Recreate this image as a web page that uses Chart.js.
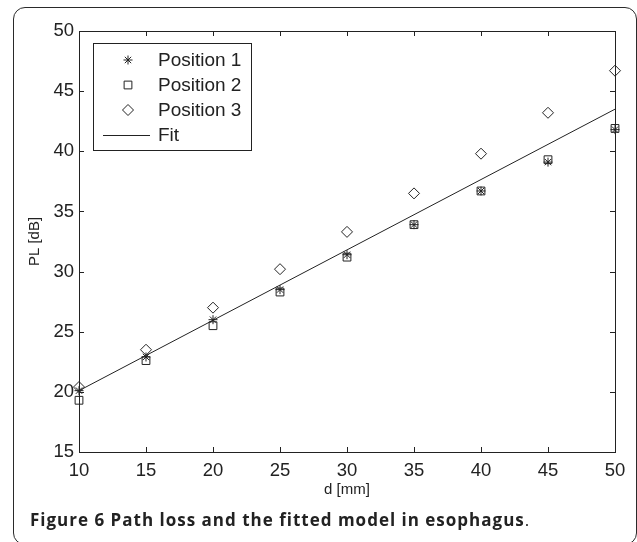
<!DOCTYPE html>
<html>
<head>
<meta charset="utf-8">
<script src="https://cdn.jsdelivr.net/npm/chart.js@4"></script>
<style>
  html, body { margin: 0; padding: 0; background: #fff; }
  #wrap { position: relative; width: 637px; height: 542px; overflow: hidden; }
  #frame {
    position: absolute; left: 13px; top: 7px; width: 624px; height: 538px;
    border: 1.6px solid #2a2a2a; border-radius: 12px; box-sizing: border-box;
  }
  #chart { position: absolute; left: 0; top: 0; }
  #caption {
    position: absolute; left: 30px; top: 508px;
    font-family: "Open Sans", sans-serif; font-size: 17px; color: #222;
    letter-spacing: 1px; white-space: nowrap;
  }
  #caption b { font-weight: 700; }
</style>
</head>
<body>
<div id="wrap">
  <div id="frame"></div>
  <canvas id="chart" width="637" height="542"></canvas>
  <div id="caption"><b>Figure 6 Path loss and the fitted model in esophagus</b>.</div>
</div>
<script>
// Distances (mm)
const distances = [10, 15, 20, 25, 30, 35, 40, 45, 50];

// Path loss measurements (dB)
const position1 = [20.1, 22.9, 26.0, 28.5, 31.4, 33.9, 36.7, 39.1, 41.8];
const position2 = [19.3, 22.6, 25.5, 28.3, 31.2, 33.9, 36.7, 39.3, 41.9];
const position3 = [20.4, 23.5, 27.0, 30.2, 33.3, 36.5, 39.8, 43.2, 46.7];

// Fitted model end points
const fitX = [10, 50];
const fitY = [20.1, 43.5];

const xTicks = [10, 15, 20, 25, 30, 35, 40, 45, 50];
const yTicks = [15, 20, 25, 30, 35, 40, 45, 50];

const ink = '#222';
const tickFont = { family: 'Liberation Sans, Arial, sans-serif', size: 18.5 };
const titleFont = { family: 'Liberation Sans, Arial, sans-serif', size: 15 };

function toPoints(xs, ys) {
    return xs.map((x, i) => ({ x: x, y: ys[i] }));
}

// Box around the plot and inward tick marks, like MATLAB axes
const axesBox = {
    id: 'axesBox',
    afterDatasetsDraw(chart) {
        const { ctx, chartArea: a, scales } = chart;
        const len = 5;
        ctx.save();
        ctx.strokeStyle = ink;
        ctx.lineWidth = 1;
        ctx.beginPath();
        xTicks.forEach(v => {
            const px = Math.round(scales.x.getPixelForValue(v)) + 0.5;
            ctx.moveTo(px, a.bottom); ctx.lineTo(px, a.bottom - len);
            ctx.moveTo(px, a.top); ctx.lineTo(px, a.top + len);
        });
        yTicks.forEach(v => {
            const py = Math.round(scales.y.getPixelForValue(v)) + 0.5;
            ctx.moveTo(a.left, py); ctx.lineTo(a.left + len, py);
            ctx.moveTo(a.right, py); ctx.lineTo(a.right - len, py);
        });
        ctx.stroke();
        ctx.strokeRect(Math.round(a.left) + 0.5, Math.round(a.top) + 0.5,
            Math.round(a.right - a.left), Math.round(a.bottom - a.top));
        ctx.restore();
    }
};

// Legend box in the upper left corner of the axes
const boxLegend = {
    id: 'boxLegend',
    afterDraw(chart) {
        const { ctx, chartArea: a } = chart;
        const left = a.left + 14, top = a.top + 12, w = 158, h = 107;
        const rowH = 25, markX = left + 35, textX = left + 65;
        ctx.save();
        ctx.fillStyle = '#fff';
        ctx.fillRect(left, top, w, h);
        ctx.strokeStyle = ink;
        ctx.lineWidth = 1;
        ctx.strokeRect(left + 0.5, top + 0.5, w, h);
        chart.data.datasets.forEach((ds, i) => {
            const y = top + 17 + i * rowH;
            ctx.strokeStyle = ink;
            ctx.fillStyle = 'rgba(0,0,0,0)';
            ctx.lineWidth = 1;
            if (ds.showLine) {
                ctx.beginPath();
                ctx.moveTo(left + 10, y + 0.5);
                ctx.lineTo(left + 57, y + 0.5);
                ctx.stroke();
            } else {
                Chart.helpers.drawPoint(ctx, {
                    pointStyle: ds.pointStyle, radius: ds.pointRadius,
                    borderWidth: 1, rotation: 0
                }, markX, y);
            }
            ctx.fillStyle = ink;
            ctx.font = '19px Liberation Sans, Arial, sans-serif';
            ctx.textBaseline = 'middle';
            ctx.fillText(ds.label, textX, y + 1);
        });
        ctx.restore();
    }
};

const markerBase = {
    borderColor: ink,
    backgroundColor: 'rgba(0,0,0,0)',
    borderWidth: 1,
    showLine: false,
    clip: false
};

new Chart(document.getElementById('chart'), {
    type: 'scatter',
    data: {
        datasets: [
            Object.assign({ label: 'Position 1', data: toPoints(distances, position1),
                pointStyle: 'star', pointRadius: 4.5 }, markerBase),
            Object.assign({ label: 'Position 2', data: toPoints(distances, position2),
                pointStyle: 'rect', pointRadius: 5.5 }, markerBase),
            Object.assign({ label: 'Position 3', data: toPoints(distances, position3),
                pointStyle: 'rectRot', pointRadius: 5.5 }, markerBase),
            {
                label: 'Fit', data: toPoints(fitX, fitY),
                showLine: true, borderColor: ink, borderWidth: 1,
                pointRadius: 0, fill: false, clip: false
            }
        ]
    },
    options: {
        responsive: false,
        animation: false,
        layout: { padding: { left: 0, top: 31, right: 22, bottom: 0 } },
        plugins: {
            legend: { display: false },
            tooltip: { enabled: false }
        },
        scales: {
            x: {
                type: 'linear', min: 10, max: 50,
                afterBuildTicks: s => { s.ticks = xTicks.map(v => ({ value: v })); },
                afterFit: s => { s.height = 90; },
                grid: { display: false, drawTicks: false },
                border: { display: false },
                ticks: { color: ink, font: tickFont, padding: 8, maxRotation: 0 },
                title: { display: true, text: 'd [mm]', color: ink, font: titleFont,
                    padding: { top: 0, bottom: 43 } }
            },
            y: {
                type: 'linear', min: 15, max: 50,
                afterBuildTicks: s => { s.ticks = yTicks.map(v => ({ value: v })); },
                afterFit: s => { s.width = 79; },
                grid: { display: false, drawTicks: false },
                border: { display: false },
                ticks: { color: ink, font: tickFont, padding: 5 },
                title: { display: true, text: 'PL [dB]', color: ink, font: titleFont,
                    padding: { top: 26, bottom: 0 } }
            }
        }
    },
    plugins: [axesBox, boxLegend]
});
</script>
</body>
</html>
